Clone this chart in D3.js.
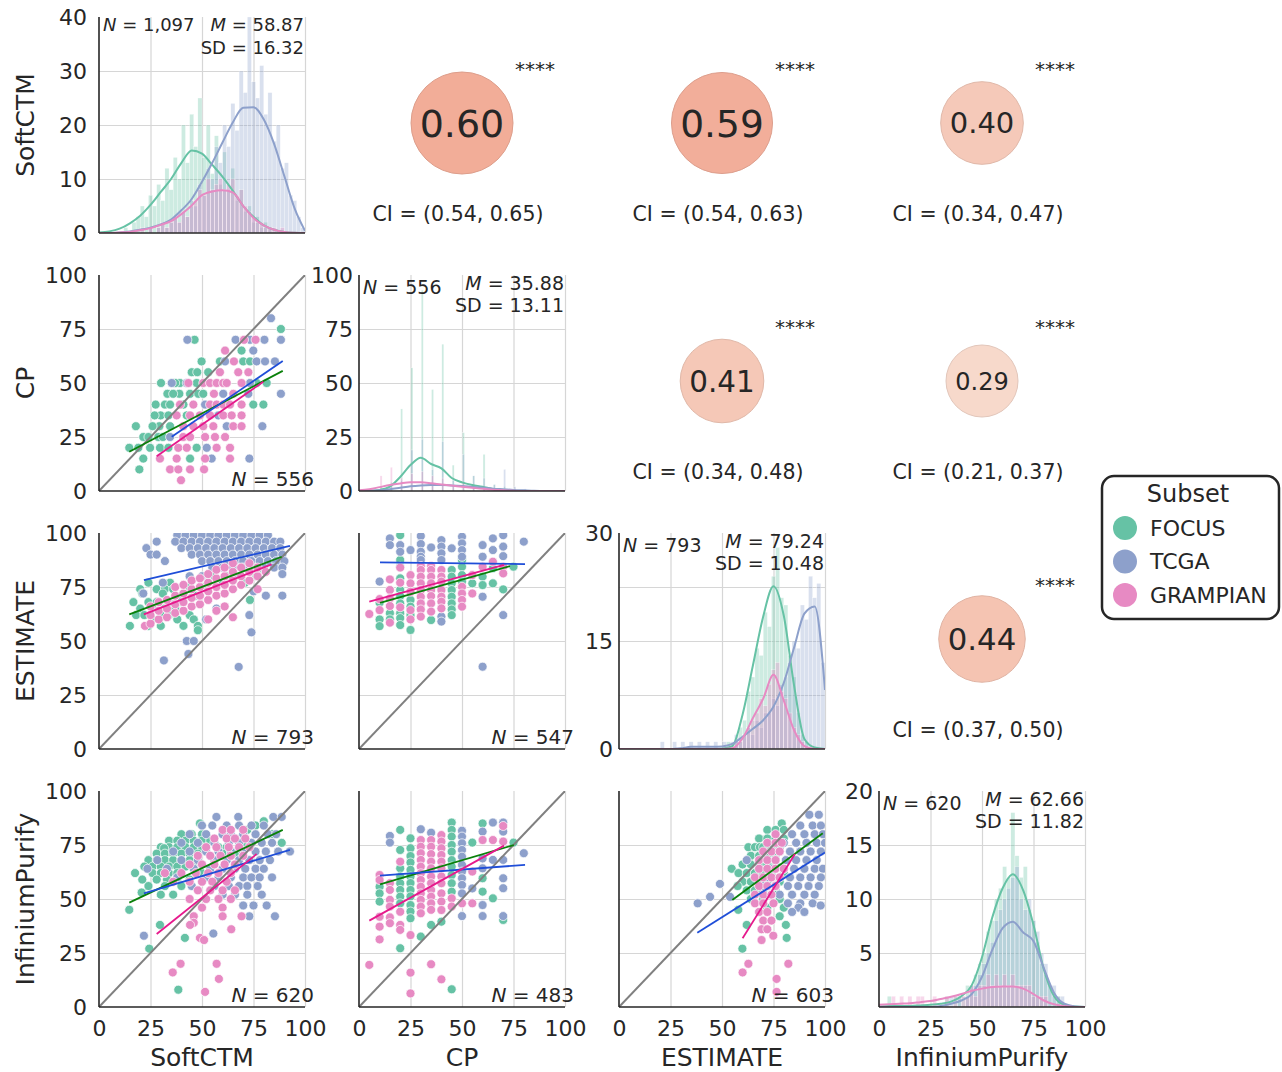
<!DOCTYPE html>
<html>
<head>
<meta charset="utf-8">
<script src="https://cdn.jsdelivr.net/npm/d3@7"></script>
<style>
body { margin: 0; background: #fff; }
text { font-family: "DejaVu Sans", sans-serif; fill: #262626; }
</style>
</head>
<body>
<svg id="chart" width="1282" height="1072"></svg>
<script>
// ---- data ----
var varNames = ["SoftCTM", "CP", "ESTIMATE", "InfiniumPurify"];
var subsets = ["FOCUS", "TCGA", "GRAMPIAN"];
var subsetColors = ["#66c2a5", "#8da0cb", "#e78ac3"];
var fitColors = ["#0a800a", "#1f4ed8", "#e6198c"];

var axisTicks = [0, 25, 50, 75, 100];
var histYMax = [40, 100, 30, 20];
var histYTicks = [[0, 10, 20, 30, 40], [0, 25, 50, 75, 100], [0, 15, 30], [5, 10, 15, 20]];
var histN = ["1,097", "556", "793", "620"];
var histMean = ["58.87", "35.88", "79.24", "62.66"];
var histSD = ["16.32", "13.11", "10.48", "11.82"];

// correlations (upper triangle)
var corrRow = [0, 0, 0, 1, 1, 2];
var corrCol = [1, 2, 3, 2, 3, 3];
var corrValues = [0.60, 0.59, 0.40, 0.41, 0.29, 0.44];
var corrCI = ["(0.54, 0.65)", "(0.54, 0.63)", "(0.34, 0.47)", "(0.34, 0.48)", "(0.21, 0.37)", "(0.37, 0.50)"];
var corrStars = ["****", "****", "****", "****", "****", "****"];

// histogram counts, bins of width 2 starting at 0
var softHistFocus = [0,0,0,0,0,0,1,0,2,3, 5,3,7,5,9,6,12,8,14,10, 20,13,22,16,25,14,20,11,18,9, 15,8,12,6,8,4,5,2,3,1, 2,1,0,0,0,0,0,0,0,0];
var softHistTcga = [0,0,0,0,0,0,0,0,0,0, 0,0,1,0,1,2,1,2,3,2, 4,3,6,5,9,7,12,10,16,13, 20,16,24,19,30,26,40,28,25,31, 22,26,17,20,12,13,7,6,3,1];
var softHistGrampian = [0,0,0,0,0,0,0,0,0,0, 1,0,1,0,1,2,1,2,3,2, 4,3,5,6,8,7,10,8,9,10, 8,9,10,7,8,5,4,3,2,2, 1,1,1,0,1,0,0,0,0,0];
var estHistFocus = [0,0,0,0,0,0,0,0,0,0, 0,0,0,0,0,0,0,0,0,0, 0,0,0,0,0,0,1,0,1,3, 4,8,10,14,13,19,17,24,28,21, 20,13,10,5,2,1,0,0,0,0];
var estHistTcga = [0,0,0,0,0,0,0,0,0,0, 1,0,0,1,0,1,0,1,0,1, 0,1,0,1,0,1,0,1,2,1, 2,3,2,4,3,5,5,7,6,9, 10,12,15,14,20,18,24,21,23,12];
var estHistGrampian = [0,0,0,0,0,0,0,0,0,0, 0,0,0,0,0,0,0,0,0,0, 0,0,0,0,0,0,0,0,1,1, 2,3,4,5,7,6,9,11,12,8, 7,5,3,2,1,0,0,0,0,0];
var ipHistFocus = [0,0,1,0,0,0,0,0,0,0, 0,0,0,0,0,0,1,0,1,1, 1,2,2,3,4,5,7,8,10,11, 13,12,18,14,12,13,9,8,6,4, 3,2,1,1,0,0,0,0,0,0];
var ipHistTcga = [0,0,0,0,0,0,0,0,0,0, 0,0,0,0,0,0,0,1,0,1, 0,1,2,2,3,4,5,6,8,9, 10,11,12,13,10,9,10,8,7,5, 4,2,2,1,1,0,0,0,0,0];
var ipHistGrampian = [0,0,0,1,0,1,0,1,0,1, 1,0,0,1,0,0,1,0,1,0, 1,1,2,1,2,2,3,2,3,2, 3,2,3,2,2,2,2,1,1,1, 1,0,0,0,0,0,0,0,0,0];
// CP takes discrete values: counts per level
var cpLevels = [5,10,15,20,25,30,35,40,45,50,55,60,65,70,75,80];
var cpHistFocus = [0,2,4,38,57,93,47,68,12,27,7,17,3,2,1,0];
var cpHistTcga = [0,1,2,5,19,24,10,23,5,17,7,6,3,10,2,1];
var cpHistGrampian = [1,7,11,6,8,9,7,6,3,4,2,2,1,1,0,0];

// KDE curves sampled at kdeX
var kdeX = [0,5,10,15,20,25,30,35,40,45,50,55,60,65,70,75,80,85,90,95,100];
var softKdeFocus = [0.1,0.3,0.8,1.8,3.2,5.2,7.6,10.0,13.0,15.3,14.7,12.6,10.4,7.8,5.0,3.0,1.4,0.6,0.2,0.05,0];
var softKdeTcga = [0,0,0.1,0.3,0.6,1.0,1.6,2.5,4.2,6.3,9.5,13.0,16.8,20.5,23.2,23.3,21.0,16.5,10.5,4.5,0.4];
var softKdeGrampian = [0,0,0.1,0.2,0.5,0.9,1.5,2.2,3.5,5.1,7.0,7.7,7.9,7.5,5.0,2.8,1.4,0.6,0.2,0.05,0];
var cpKdeFocus = [0,0.1,0.5,2,6.5,12,15.4,12.5,10.5,6,4,2.8,2,0.9,0.4,0.1,0,0,0,0,0];
var cpKdeTcga = [0,0.1,0.3,0.8,1.5,2.2,2.6,2.8,2.8,2.6,2.3,1.9,1.5,1.1,0.8,0.5,0.3,0.1,0,0,0];
var cpKdeGrampian = [0.3,0.8,1.8,2.8,3.5,4.0,4.0,3.6,3.0,2.5,2.0,1.5,1.0,0.6,0.3,0.1,0,0,0,0,0];
var estKdeFocus = [0,0,0,0,0,0,0,0,0,0,0.05,0.4,4.8,11.6,18.4,22.6,18.5,8.8,1.4,0.2,0];
var estKdeTcga = [0,0,0,0,0,0,0.1,0.3,0.3,0.3,0.35,0.7,1.7,2.8,4.0,5.9,9.2,14.1,18.8,19.8,8.2];
var estKdeGrampian = [0,0,0,0,0,0,0,0,0,0,0,0.1,1.5,4.3,7.0,10.3,6.7,2.6,0.4,0,0];
var ipKdeFocus = [0.05,0.1,0.1,0.1,0.15,0.2,0.3,0.5,1.0,2.0,4.6,8.3,11.0,12.3,10.8,7.6,3.5,1.0,0.2,0.05,0];
var ipKdeTcga = [0,0,0,0,0,0,0.1,0.3,0.6,1.2,2.8,5.3,7.3,7.9,6.9,6.1,3.6,1.3,0.3,0.05,0];
var ipKdeGrampian = [0.2,0.25,0.3,0.35,0.45,0.55,0.75,0.95,1.2,1.5,1.7,1.85,1.9,1.9,1.7,1.2,0.6,0.25,0.1,0,0];

// scatter points: [x, y]; "rows" = [y, [x...]], "cols" = [x, [y...]]
var cpSoftFocus = [[88.3,75],[46.4,70],[69.2,65],[49.8,60],[58.7,60],[70,60],[73.3,60],[45,55],[47.7,55],[53,55],[30.1,50],[39.3,50],[47.4,50],[37,50],[76.5,50],[81.4,50],[33.2,45],[39,45],[36,45],[44.2,45],[48.2,45],[50.6,45],[27.5,40],[32,40],[34.5,40],[41,40],[74.9,40],[79.8,40],[29.9,35],[33.7,35],[27,35],[42.6,35],[17.9,30],[29.3,30],[34.5,30],[26,30],[21.5,25],[24,25],[28.8,25],[31,25],[14.7,20],[19.1,20],[24.8,20],[29.6,20],[33.7,20],[47.4,20],[21.5,15],[44.2,15],[19.6,10]];
var cpSoftTcga = [[83.5,80],[42.9,70],[66.3,70],[73.3,70],[80.3,70],[88.3,70],[74.9,65],[61.2,60],[76.5,60],[80.6,60],[85.4,60],[35.3,50],[42.6,50],[73.3,50],[60.3,45],[72.5,45],[88.3,45],[51.5,40],[57.9,35],[62,30],[79.3,30],[34.5,25],[52.3,20],[54.7,15],[73,15]];
var cpSoftGrampian = [[70.4,70],[76,70],[61.2,65],[65.5,60],[58.7,55],[67.6,55],[72.5,55],[43.4,50],[50.6,50],[53.9,50],[57.1,50],[60.3,50],[62,50],[69.2,50],[55.8,45],[65.2,45],[39.3,40],[45.8,40],[53.9,40],[57.1,40],[60.3,40],[63.6,40],[69.2,40],[37.7,35],[44.2,35],[49,35],[53.9,35],[60.3,35],[64.4,35],[69.2,35],[40.9,30],[45.8,30],[50.6,30],[55.5,30],[65.2,30],[69.2,30],[40.9,25],[44.2,25],[51.5,25],[56.3,25],[61.2,25],[38.5,20],[42.6,20],[57.1,20],[63.6,20],[29.6,15],[37.7,15],[51.5,15],[63.6,15],[34.5,10],[38.5,10],[44.2,10],[51,10],[39.8,5]];

var estSoftFocusRows = [[85,[85,89]],[83,[80]],[80,[56,62,66,76.5]],[77,[24,34.5,60,70.9]],[75,[44,50]],[74,[20,28,32,36]],[72,[21,31]],[71,[40,47]],[69,[73.3]],[68,[16.7,24,28,34,40]],[65,[20,26,32,37]],[62,[18,22,30,34,44]],[60,[26,38,46]],[57,[15,24,30,41,48]],[55,[48]]];
var estSoftTcgaRows = [[99,[38,42,46,50,54,58,62,66,70,74,78,82]],[96,[28,37,41,45,49,53,57,61,65,69,73,77,81,85,88]],[93,[23,40,44,48,52,56,60,64,68,72,76,80,84,88]],[90,[25,28,45,49,53,57,61,65,69,73,77,81,85,89]],[87,[32,50,54,58,62,66,70,74,78,82,86,90]],[84,[55,60,65,70,75,80,85,89]],[81,[89]],[80,[44,50,66]],[77,[31]],[73,[75]],[72,[21.5]],[71,[81,89]],[65,[57]],[62,[73]],[60,[52]],[54,[74]],[50,[42.6,46]],[44,[43.4]],[41,[31.5]],[38,[67.8]]];
var estSoftGrampianCols = [[22.3,[57]],[25,[58,62,66]],[29,[60,64,68]],[33,[61,65,69]],[37,[63,67,71,75]],[41,[64,68,72,76]],[45,[66,70,74,78]],[49,[67,71,75,79]],[53,[60,69,73,77,81]],[57,[64,71,75,79,83]],[61,[66,72,76,80,84]],[65,[61,74,78,82,86]],[69,[76,80,84]],[73,[78,82,86]],[77,[74,80,84]],[81,[82]]];

var estCpFocusCols = [[10,[67.7,60,56.9]],[15,[62.9,60]],[20,[99,87.5,84.4,79,73.6,70.8,67.4,62.9,60.6,57.4]],[25,[69,65.9,62,55.1]],[35,[59.7]],[45,[82.9,79.8,76.7,73.6,70.5,67.4,64.6,62]],[50,[87.5,84.4,80.5,77.5]],[55,[76.7]],[60,[79.8,75.9]],[65,[83.7,76.7]],[70,[73.9]],[75,[84.4]]];
var estCpTcgaCols = [[10,[77.5]],[15,[97.5,94.4]],[20,[94.4,91.3]],[25,[92.1]],[30,[98.6,94.9,91.3,89,87.5]],[35,[93.3]],[40,[96.7,93.7,90.6,87.5,61.3,59]],[45,[92.9]],[50,[98.3,95.2,92.1,89]],[60,[94.4,89,70.5,38.1]],[65,[97.5,92.1]],[70,[99,93.7,89.3,62]],[80,[96]]];
var estCpGrampianCols = [[5,[62.5]],[10,[69.4,64.3]],[15,[78.5,73.6,69.7,66.2,58.5]],[20,[84,77,65.6]],[25,[80.5,76.7,72.8,64.3,60]],[30,[84.7,82.9,79.8,76.7,73.6,70.5,67.4,64.6,61.3]],[35,[84.7,82.9,79.8,76.7,73.6,70.8,67.4,63.6]],[40,[82.9,79.8,77.5,73.6,70.5,68.2,65.1]],[50,[75.1,72,69,65.9]],[55,[80.5,72]],[60,[84.4]],[65,[86.7]],[70,[84.4,81.3]]];

var ipSoftFocusRows = [[86,[80]],[85,[49]],[84,[76]],[82,[72]],[80,[40,45,50,84]],[78,[66]],[77,[34,38,42,46,50,54]],[76,[70,88.7]],[74,[30,34,38,42,46,50,58,62]],[73.5,[31.6]],[71,[28,32,36,40,44,48,60,66]],[68,[24,28,32,36,40,44]],[65,[22,26,30,34,38,42,46]],[62,[17.5,26,30,34,38,50]],[59,[21,28,33,38,44]],[56,[24,32,40]],[53,[20.7]],[52,[30,36]],[45,[14.7]],[38,[29.6]],[32,[41.7]],[27,[24.4]],[8,[38.5]]];
var ipSoftTcgaRows = [[88,[57,67.6,84.6,88.7]],[84,[50,55,62,68,74,80]],[80,[44,52,60,64,70,76,82,86]],[76,[40,48,56,63,68,74,79,84]],[72,[36,44,52,58,64,70,76,81,87,92.7]],[68,[28.3,40,48,56,62,68,73,78,83]],[64,[23.5,33,46,54,60,66,71,76,80]],[60,[38,52,58,64,70,74,78,84]],[56,[45,56,63,68,72,77]],[52,[60,66,72,79]],[47,[70,75,81.4]],[42,[73,85.4]],[34,[55.5]],[33,[21.8]]];
var ipSoftGrampianRows = [[82,[60,64,70]],[78,[56,62,66,71]],[74,[52,57,63,68,73]],[70,[48,54,59,64,70]],[66,[44,50,56,61,66]],[62,[32,40,47,53,58,64]],[58,[36,44,50,55,62]],[54,[48,54,60,66]],[50,[44,52,58,64]],[46,[50,60]],[42,[46,60,69.2]],[39,[46]],[38,[44.2]],[36,[64.2]],[32,[49]],[31,[51]],[20,[39.6,57.1]],[16,[35.8]],[13,[58.2]],[7,[51.5]]];

var ipCpFocusCols = [[10,[55.7,52.6,48.8]],[20,[82,72.7,64.2,60.4,57.3,54.2,51.1,48,27.2]],[25,[78.1,73.5,69.9,66.9,63.5,60.4,57.4,54.2,51.2,47.2,44.2,41.1]],[30,[32.6]],[35,[38]],[40,[39.5]],[45,[85.4,82,78.9,75,71.9,68,65,61.1,57.3,53.4,8.2]],[55,[76.1]],[60,[85,59.6,53.4]],[65,[50.3]],[70,[40.3]],[75,[76.1]]];
var ipCpTcgaCols = [[15,[79.2,76.1]],[30,[82.3]],[35,[80.7]],[50,[81.6,78.9,75.8,72.7,69.6,65.8,62.7,59.6,56.5,52.6,42.1]],[55,[54.9]],[60,[81.2,68.8,64.2,47.2,42.1]],[65,[85.4,68.1]],[70,[85.4,81.2,68.1,59.6,55,42.1]],[80,[71.2]]];
var ipCpGrampianCols = [[5,[19.5]],[10,[61.1,58.8,41.8,37.2,31.3]],[15,[57.3,54.2,49.6,46.5,41.5,38.8]],[20,[67.3,44.1,38,35.7]],[25,[33.3,15.9,6.3]],[30,[77.3,74.2,71.2,68.1,65,61.9,58.8,55.7,52.6,49.6,46.5,43.4]],[35,[77.3,74.2,70.8,67.3,64.2,60.4,57.3,54.2,51.1,48,45,19.8]],[40,[79.6,76.6,73.5,70.4,67.3,64.2,60.4,57.3,52.6,48.8,44.9,12.8]],[45,[50.3,46.5]],[50,[48]],[55,[62.7,48]],[60,[77.3]],[65,[77.3]],[70,[83.8,76.6]]];

var ipEstFocusRows = [[85,[79]],[82,[72,76,80]],[78,[68,72,76,80]],[74,[62.8,66,68.4,70,74,78]],[70,[64,68,72,76]],[66,[60,64,68,72,76]],[64,[54.7]],[62,[58,62,66,70,74,80]],[58,[60,64,68,72,78]],[56,[57.6]],[54,[62,66,70,76]],[50,[64,70,78]],[46,[72,80]],[45,[57.9]],[42,[78]],[38,[62,81]],[32,[81.4]],[27,[59.9]]];
var ipEstTcgaRows = [[89,[92.4,97]],[84,[88,94,98]],[80,[84,90,95,99]],[76,[80,86,91,96,100]],[72,[78,83,88,93,98]],[68,[62,76,81,86,91,96]],[64,[75,80,85,90,95,99]],[60,[72,78,83,88,93,98]],[57,[49]],[56,[70,76,82,87,92,97]],[52,[78,84,90,95]],[51,[44.2,53.9]],[48,[38.2,82,88,94]],[47,[97.9]],[46,[87.1]],[44,[84,90]]];
var ipEstGrampianRows = [[80,[76]],[76,[72,76,79]],[72,[70,74,78]],[68,[68,72,76]],[64,[68,72,76,80]],[60,[66,70,74,78]],[56,[68,72,76]],[52,[66,70,74]],[48,[66,70,75]],[44,[68,72]],[40,[70,74]],[36,[69.2,72]],[33,[74.9]],[31,[69.2]],[20,[62.8,82.2]],[16,[60]],[13,[76.5]],[7,[76.5]]];

// regression fits per subset: [x1, y1, x2, y2]
var cpSoftFits = [[14.7,18.2,89.2,55.6],[35.3,25.1,89.2,60.2],[28,16.1,79.8,50.6]];
var estSoftFits = [[14.7,62.3,88.7,89],[21.8,78.2,92.7,94],[21.8,62.3,83.8,85.5]];
var estCpFits = [[10.2,67.7,73.3,84.7],[10.2,86.4,80.6,85.6],[5,68.2,70.4,85.2]];
var ipSoftFits = [[14.7,48.3,89.2,82],[21.8,52.6,92.7,72.7],[28,33.8,76.5,70.8]];
var ipCpFits = [[10.2,56.8,75.2,75],[10.2,60.8,80.6,65.8],[5,40,70.4,74.7]];
var ipEstFits = [[55,49.5,98.9,80.4],[38,34.4,100,71.5],[60,31.8,85.4,70.8]];
var scatterN = [556, 793, 547, 620, 483, 603];

// ---- helpers ----
function byRow(rows) { return rows.flatMap(function(r) { return r[1].map(function(x) { return [x, r[0]]; }); }); }
function byCol(cols) { return cols.flatMap(function(c) { return c[1].map(function(y) { return [c[0], y]; }); }); }

// tables built from the arrays above
var diagPanels = [
    { bins: [softHistFocus, softHistTcga, softHistGrampian], kde: [softKdeFocus, softKdeTcga, softKdeGrampian] },
    { bins: [cpHistFocus, cpHistTcga, cpHistGrampian], levels: cpLevels, kde: [cpKdeFocus, cpKdeTcga, cpKdeGrampian] },
    { bins: [estHistFocus, estHistTcga, estHistGrampian], kde: [estKdeFocus, estKdeTcga, estKdeGrampian] },
    { bins: [ipHistFocus, ipHistTcga, ipHistGrampian], kde: [ipKdeFocus, ipKdeTcga, ipKdeGrampian] }
];
var scatterPanels = [
    { row: 1, col: 0, pts: [cpSoftFocus, cpSoftTcga, cpSoftGrampian], fits: cpSoftFits },
    { row: 2, col: 0, pts: [byRow(estSoftFocusRows), byRow(estSoftTcgaRows), byCol(estSoftGrampianCols)], fits: estSoftFits },
    { row: 2, col: 1, pts: [byCol(estCpFocusCols), byCol(estCpTcgaCols), byCol(estCpGrampianCols)], fits: estCpFits },
    { row: 3, col: 0, pts: [byRow(ipSoftFocusRows), byRow(ipSoftTcgaRows), byRow(ipSoftGrampianRows)], fits: ipSoftFits },
    { row: 3, col: 1, pts: [byCol(ipCpFocusCols), byCol(ipCpTcgaCols), byCol(ipCpGrampianCols)], fits: ipCpFits },
    { row: 3, col: 2, pts: [byRow(ipEstFocusRows), byRow(ipEstTcgaRows), byRow(ipEstGrampianRows)], fits: ipEstFits }
];

// ---- layout ----
var svg = d3.select("#chart");
var colX = [99, 359, 619, 879], rowY = [17, 275, 533, 791];
var panelW = 206, panelH = 216;
var ink = "#262626";
var clipCount = 0;

function makeClip(x0, y0) {
    var id = "clip" + (clipCount++);
    svg.append("clipPath").attr("id", id).append("rect")
        .attr("x", x0).attr("y", y0).attr("width", panelW).attr("height", panelH);
    return "url(#" + id + ")";
}

function drawGrid(g, x, y, yMax) {
    var x0 = x.range()[0], yb = y.range()[0];
    g.append("g").attr("transform", "translate(0," + yb + ")")
        .call(d3.axisBottom(x).tickValues([25, 50, 75, 100]).tickSize(-panelH).tickFormat(""))
        .call(function(a) { a.select(".domain").remove(); })
        .selectAll("line").attr("stroke", "#d6d6d6").attr("stroke-width", 1.2);
    g.append("g").attr("transform", "translate(" + x0 + ",0)")
        .call(d3.axisLeft(y).tickValues([yMax / 4, yMax / 2, yMax * 3 / 4]).tickSize(-panelW).tickFormat(""))
        .call(function(a) { a.select(".domain").remove(); })
        .selectAll("line").attr("stroke", "#d6d6d6").attr("stroke-width", 1.2);
}

function drawSpines(g, x0, y0) {
    g.append("line").attr("x1", x0).attr("x2", x0).attr("y1", y0).attr("y2", y0 + panelH)
        .attr("stroke", ink).attr("stroke-width", 1.6);
    g.append("line").attr("x1", x0).attr("x2", x0 + panelW).attr("y1", y0 + panelH).attr("y2", y0 + panelH)
        .attr("stroke", ink).attr("stroke-width", 1.6);
}

function yLabels(g, y, x0, vals, pad) {
    g.append("g").attr("transform", "translate(" + x0 + ",0)")
        .call(d3.axisLeft(y).tickValues(vals).tickSize(0).tickPadding(pad))
        .attr("font-size", 22).attr("font-family", "DejaVu Sans").attr("color", ink)
        .call(function(a) { a.select(".domain").remove(); });
}

function xLabels(g, x, yb) {
    g.append("g").attr("transform", "translate(0," + yb + ")")
        .call(d3.axisBottom(x).tickValues(axisTicks).tickSize(0).tickPadding(13))
        .attr("font-size", 22).attr("font-family", "DejaVu Sans").attr("color", ink)
        .call(function(a) { a.select(".domain").remove(); });
}

function nText(g, xPos, yPos, anchor, label, size) {
    var t = g.append("text").attr("x", xPos).attr("y", yPos).attr("text-anchor", anchor).attr("font-size", size);
    t.append("tspan").attr("font-style", "italic").text("N");
    t.append("tspan").text(" = " + label);
}

// ---- diagonal histograms ----
diagPanels.forEach(function(d, i) {
    var x0 = colX[i], y0 = rowY[i];
    var x = d3.scaleLinear().domain([0, 100]).range([x0, x0 + panelW]);
    var y = d3.scaleLinear().domain([0, histYMax[i]]).range([y0 + panelH, y0]);
    var g = svg.append("g");
    drawGrid(g, x, y, histYMax[i]);
    var gc = g.append("g").attr("clip-path", makeClip(x0, y0));

    d.bins.forEach(function(counts, k) {
        var bars = counts.map(function(c, j) {
            var lo = d.levels ? d.levels[j] + 0.2 : j * 2;
            var hi = d.levels ? d.levels[j] + 1.2 : j * 2 + 2;
            return { lo: lo, hi: hi, c: c };
        }).filter(function(b) { return b.c > 0; });
        gc.selectAll(null).data(bars).enter().append("rect")
            .attr("x", function(b) { return x(b.lo); })
            .attr("width", function(b) { return x(b.hi) - x(b.lo); })
            .attr("y", function(b) { return y(b.c); })
            .attr("height", function(b) { return y(0) - y(b.c); })
            .attr("fill", subsetColors[k]).attr("fill-opacity", 0.33)
            .attr("stroke", "#fff").attr("stroke-width", 0.3);
    });

    var kdeLine = d3.line()
        .x(function(v, j) { return x(kdeX[j]); })
        .y(function(v) { return y(v); })
        .curve(d3.curveMonotoneX);
    d.kde.forEach(function(vals, k) {
        gc.append("path").attr("d", kdeLine(vals)).attr("fill", "none")
            .attr("stroke", subsetColors[k]).attr("stroke-width", 2);
    });

    drawSpines(g, x0, y0);
    yLabels(g, y, x0, histYTicks[i], i === 0 ? 12 : 6);
    if (i === 3) xLabels(g, x, y0 + panelH);

    var fs = i === 0 ? 18 : 19;
    nText(g, x0 + 4, y0 + (i === 0 ? 14 : 19), "start", histN[i], fs);
    var m = g.append("text").attr("x", x0 + 205).attr("y", y0 + (i === 0 ? 14 : 15)).attr("text-anchor", "end").attr("font-size", fs);
    m.append("tspan").attr("font-style", "italic").text("M");
    m.append("tspan").text(" = " + histMean[i]);
    g.append("text").attr("x", x0 + 205).attr("y", y0 + 37).attr("text-anchor", "end").attr("font-size", fs)
        .text("SD = " + histSD[i]);
});

// ---- lower triangle scatter plots ----
scatterPanels.forEach(function(p, pi) {
    var x0 = colX[p.col], y0 = rowY[p.row];
    var x = d3.scaleLinear().domain([0, 100]).range([x0, x0 + panelW]);
    var y = d3.scaleLinear().domain([0, 100]).range([y0 + panelH, y0]);
    var g = svg.append("g");
    drawGrid(g, x, y, 100);
    var gc = g.append("g").attr("clip-path", makeClip(x0, y0));

    p.pts.forEach(function(pts, k) {
        gc.selectAll(null).data(pts).enter().append("circle")
            .attr("cx", function(d) { return x(d[0]); })
            .attr("cy", function(d) { return y(d[1]); })
            .attr("r", 4.5)
            .attr("fill", subsetColors[k])
            .attr("stroke", "#fff").attr("stroke-width", 0.7);
    });

    gc.append("line").attr("x1", x(0)).attr("y1", y(0)).attr("x2", x(100)).attr("y2", y(100))
        .attr("stroke", "#808080").attr("stroke-width", 2);

    gc.selectAll(null).data(p.fits).enter().append("line")
        .attr("x1", function(f) { return x(f[0]); })
        .attr("y1", function(f) { return y(f[1]); })
        .attr("x2", function(f) { return x(f[2]); })
        .attr("y2", function(f) { return y(f[3]); })
        .attr("stroke", function(f, k) { return fitColors[k]; })
        .attr("stroke-width", 1.8);

    drawSpines(g, x0, y0);
    if (p.col === 0) yLabels(g, y, x0, axisTicks, 12);
    if (p.row === 3) xLabels(g, x, y0 + panelH);
    nText(g, x0 + 215, y0 + panelH - 5, "end", scatterN[pi], 20);
});

// ---- upper triangle correlation circles ----
var rScale = d3.scaleLinear().domain([0.29, 0.60]).range([36, 51]);
var fsScale = d3.scaleLinear().domain([0.29, 0.60]).range([24, 38]);
var fillScale = d3.scaleLinear().domain([0.29, 0.60]).range(["#f7d9cb", "#f2ad98"]);

corrValues.forEach(function(v, i) {
    var cx = colX[corrCol[i]] + 103, cy = rowY[corrRow[i]] + 106;
    var g = svg.append("g");
    var fill = fillScale(v);
    g.append("circle").attr("cx", cx).attr("cy", cy).attr("r", rScale(v))
        .attr("fill", fill).attr("stroke", d3.color(fill).darker(0.25)).attr("stroke-width", 1);
    g.append("text").attr("x", cx).attr("y", cy).attr("dy", "0.36em").attr("text-anchor", "middle")
        .attr("font-size", fsScale(v)).text(v.toFixed(2));
    g.append("text").attr("x", cx + 73).attr("y", cy - 47).attr("text-anchor", "middle")
        .attr("font-size", 20).text(corrStars[i]);
    g.append("text").attr("x", cx - 4).attr("y", rowY[corrRow[i]] + panelH - 12).attr("text-anchor", "middle")
        .attr("font-size", 20.5).text("CI = " + corrCI[i]);
});

// ---- axis titles ----
varNames.forEach(function(name, i) {
    svg.append("text").attr("x", colX[i] + 103).attr("y", 1066).attr("text-anchor", "middle")
        .attr("font-size", 25).text(name);
    svg.append("text").attr("transform", "translate(34," + (rowY[i] + 108) + ") rotate(-90)")
        .attr("text-anchor", "middle").attr("font-size", 25).text(name);
});

// ---- legend ----
var lg = svg.append("g");
lg.append("rect").attr("x", 1102).attr("y", 476).attr("width", 177).attr("height", 143).attr("rx", 12)
    .attr("fill", "#fff").attr("stroke", ink).attr("stroke-width", 2.5);
lg.append("text").attr("x", 1188).attr("y", 502).attr("text-anchor", "middle").attr("font-size", 24).text("Subset");
var items = lg.selectAll(null).data(subsets).enter().append("g")
    .attr("transform", function(d, i) { return "translate(1125," + (528 + i * 33.5) + ")"; });
items.append("circle").attr("r", 12).attr("fill", function(d, i) { return subsetColors[i]; });
items.append("text").attr("x", 25).attr("dy", "0.36em").attr("font-size", 22).text(function(d) { return d; });
</script>
</body>
</html>
